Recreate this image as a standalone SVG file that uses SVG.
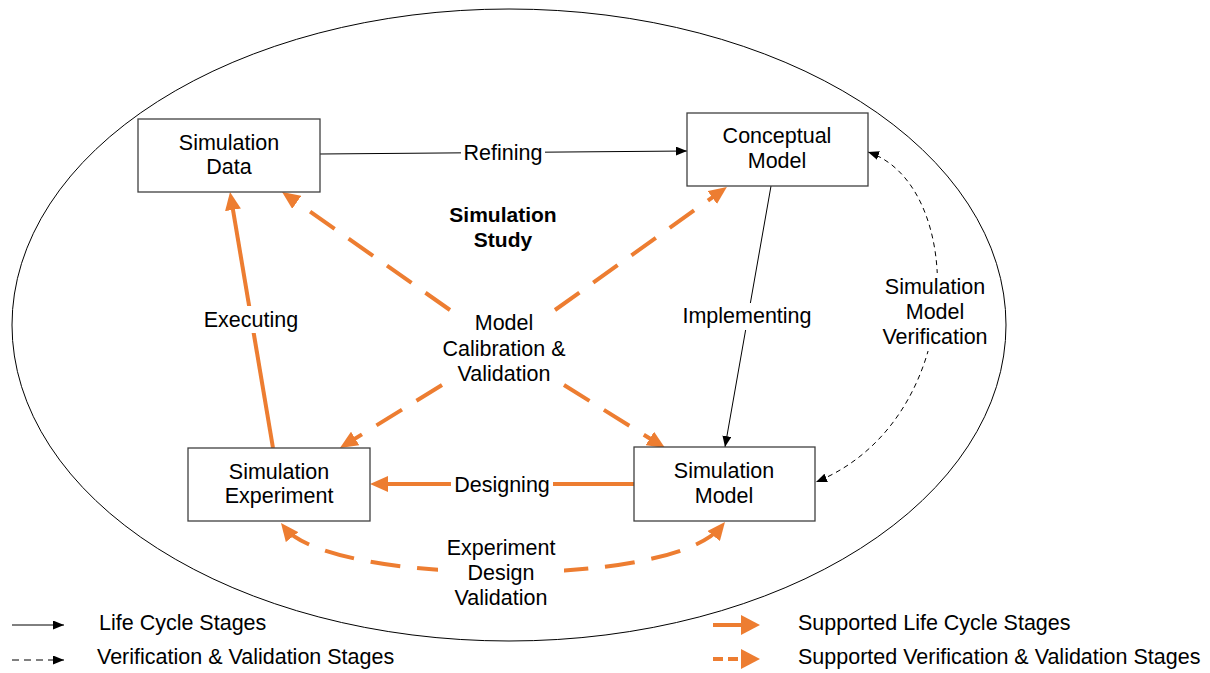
<svg xmlns="http://www.w3.org/2000/svg" width="1210" height="673" viewBox="0 0 1210 673">
  <style>
    text { font-family: "Liberation Sans", Arial, sans-serif; font-size: 21.5px; fill: #000; text-anchor: middle; }
    .bold { font-weight: bold; font-size: 21px; }
    .legend { text-anchor: start; }
    .box { fill: #fff; stroke: #404040; stroke-width: 1.3; }
    .life { fill: none; stroke: #000; stroke-width: 1; }
    .vv { fill: none; stroke: #000; stroke-width: 1; stroke-dasharray: 5 4; }
    .sup { fill: none; stroke: #ED7D31; stroke-width: 4; }
    .supvv { fill: none; stroke: #ED7D31; stroke-width: 4; stroke-dasharray: 30 17; }
    .bg { fill: #fff; }
  </style>
  <defs>
    <marker id="arrow-black" viewBox="0 0 11 9" refX="11" refY="4.5" markerWidth="11" markerHeight="9" markerUnits="userSpaceOnUse" orient="auto-start-reverse">
      <path d="M0,0 L11,4.5 L0,9 z" fill="#000"/>
    </marker>
    <marker id="arrow-orange" viewBox="0 0 18 16" refX="12" refY="8" markerWidth="18" markerHeight="16" markerUnits="userSpaceOnUse" orient="auto-start-reverse">
      <path d="M0,0 L18,8 L0,16 z" fill="#ED7D31"/>
    </marker>
    <marker id="arrow-orange-lg" viewBox="0 0 19 20" refX="13" refY="10" markerWidth="19" markerHeight="20" markerUnits="userSpaceOnUse" orient="auto">
      <path d="M0,0 L19,10 L0,20 z" fill="#ED7D31"/>
    </marker>
  </defs>

  <!-- study boundary -->
  <ellipse id="study-boundary" cx="509" cy="325" rx="497" ry="316" fill="none" stroke="#000" stroke-width="1"/>
  <text class="bold" x="503" y="222">Simulation</text>
  <text class="bold" x="503" y="247">Study</text>

  <!-- connectors -->
  <g id="connectors">
    <!-- Refining -->
    <path class="life" d="M320,154 L687,151" marker-end="url(#arrow-black)"/>
    <rect class="bg" x="461" y="141" width="84" height="24"/>
    <text x="503" y="160">Refining</text>

    <!-- Implementing -->
    <path class="life" d="M771,186 L725,447" marker-end="url(#arrow-black)"/>
    <rect class="bg" x="681" y="303" width="133" height="27"/>
    <text x="747" y="323">Implementing</text>

    <!-- Executing -->
    <path class="sup" d="M273,448 L231,198" marker-end="url(#arrow-orange)"/>
    <rect class="bg" x="202" y="306" width="98" height="27"/>
    <text x="251" y="327">Executing</text>

    <!-- Designing -->
    <path class="sup" d="M634,484 L376,484" marker-end="url(#arrow-orange)"/>
    <rect class="bg" x="451" y="472" width="102" height="26"/>
    <text x="502" y="492">Designing</text>

    <!-- Model calibration & validation (four directions) -->
    <path class="supvv" d="M450,310 L287,195.4" marker-end="url(#arrow-orange)"/>
    <path class="supvv" d="M555,310 L722,190.5" marker-end="url(#arrow-orange)"/>
    <path class="supvv" d="M442,385 L345,444.8" marker-end="url(#arrow-orange)"/>
    <path class="supvv" d="M564,385 L660,444.8" marker-end="url(#arrow-orange)"/>
    <text x="504" y="330">Model</text>
    <text x="504" y="356">Calibration &amp;</text>
    <text x="504" y="381">Validation</text>

    <!-- Experiment design validation -->
    <path class="supvv" d="M284.7,527.7 C330,585 670,590 721.2,526.7" marker-start="url(#arrow-orange)" marker-end="url(#arrow-orange)"/>
    <rect class="bg" x="438" y="534" width="126" height="76"/>
    <text x="501" y="555">Experiment</text>
    <text x="501" y="580">Design</text>
    <text x="501" y="605">Validation</text>

    <!-- Simulation model verification -->
    <path class="vv" d="M868,152 C968,185 968,420 816,482" marker-start="url(#arrow-black)" marker-end="url(#arrow-black)"/>
    <rect class="bg" x="878" y="273" width="116" height="78"/>
    <text x="935" y="294">Simulation</text>
    <text x="935" y="319">Model</text>
    <text x="935" y="344">Verification</text>
  </g>

  <!-- nodes -->
  <g id="simulation-data">
    <rect class="box" x="138" y="119" width="182" height="73"/>
    <text x="229" y="150">Simulation</text>
    <text x="229" y="174">Data</text>
  </g>
  <g id="conceptual-model">
    <rect class="box" x="687" y="113" width="181" height="73"/>
    <text x="777" y="143">Conceptual</text>
    <text x="777" y="168">Model</text>
  </g>
  <g id="simulation-experiment">
    <rect class="box" x="188" y="448" width="182" height="73"/>
    <text x="279" y="479">Simulation</text>
    <text x="279" y="503">Experiment</text>
  </g>
  <g id="simulation-model">
    <rect class="box" x="634" y="447" width="181" height="74"/>
    <text x="724" y="478">Simulation</text>
    <text x="724" y="503">Model</text>
  </g>

  <!-- legend -->
  <g id="legend">
    <path class="life" d="M12,625 L64,625" marker-end="url(#arrow-black)"/>
    <text class="legend" x="99" y="630">Life Cycle Stages</text>
    <path fill="none" stroke="#000" stroke-width="1" stroke-dasharray="7 5" d="M12,660 L64,660" marker-end="url(#arrow-black)"/>
    <text class="legend" x="97" y="664">Verification &amp; Validation Stages</text>
    <path class="sup" d="M713,625 L754,625" marker-end="url(#arrow-orange-lg)"/>
    <text class="legend" x="798" y="630">Supported Life Cycle Stages</text>
    <path fill="none" stroke="#ED7D31" stroke-width="4" stroke-dasharray="10 5" d="M713,659 L754,659" marker-end="url(#arrow-orange-lg)"/>
    <text class="legend" x="798" y="664">Supported Verification &amp; Validation Stages</text>
  </g>
</svg>
